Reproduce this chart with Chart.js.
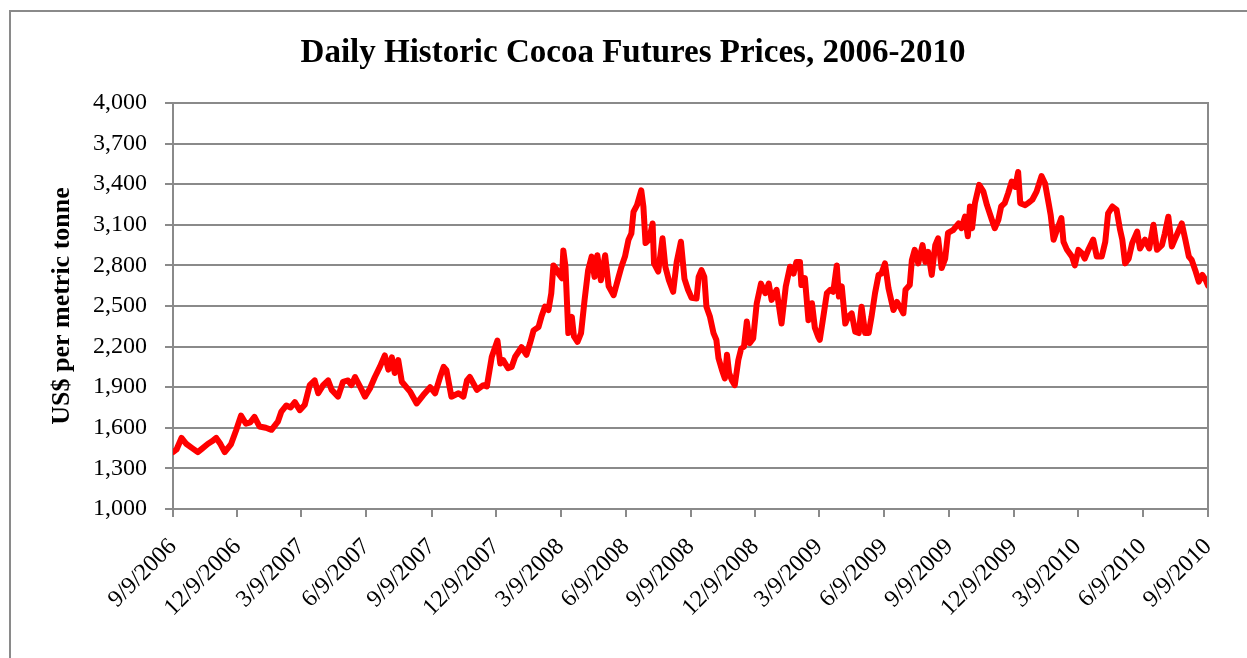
<!DOCTYPE html>
<html lang="en">
<head>
<meta charset="UTF-8">
<title>Daily Historic Cocoa Futures Prices, 2006-2010</title>
<script src="https://cdn.jsdelivr.net/npm/chart.js@4/dist/chart.umd.min.js"></script>
<style>
  html, body { margin: 0; padding: 0; background: #fff; }
  #wrap { position: relative; width: 1247px; height: 658px; }
</style>
</head>
<body>
<div id="wrap"><canvas id="cocoa" width="1247" height="658"></canvas></div>
<script>
// days counted from 9/9/2006, price in US$ per metric tonne
const priceDays = [
  0, 5, 12, 19, 27, 35, 42, 49, 55, 61, 67, 73, 82, 89, 96, 103, 109, 115, 122, 131,
  139, 148, 153, 160, 166, 172, 179, 186, 193, 200, 205, 212, 219, 224, 233, 240, 247, 252, 257, 264,
  271, 278, 285, 292, 299, 304, 309, 313, 318, 323, 335, 344, 353, 363, 370, 377, 382, 386, 393, 403,
  410, 415, 419, 429, 438, 443, 450, 458, 462, 466, 473, 478, 483, 492, 499, 504, 509, 516, 520, 525,
  530, 534, 537, 542, 544, 549, 551, 554, 558, 563, 566, 571, 576, 581, 586, 591, 595, 599, 604, 610,
  615, 622, 629, 633, 638, 643, 647, 650, 655, 661, 664, 667, 672, 677, 679, 685, 691, 695, 700, 706,
  711, 717, 722, 727, 732, 739, 742, 746, 750, 753, 758, 763, 767, 770, 775, 779, 782, 785, 789, 793,
  798, 802, 806, 810, 814, 819, 824, 830, 836, 841, 845, 852, 859, 865, 871, 876, 880, 885, 887, 892,
  897, 902, 906, 911, 913, 918, 923, 928, 932, 937, 940, 944, 949, 953, 958, 963, 968, 972, 977, 982,
  986, 991, 996, 1000, 1005, 1010, 1017, 1022, 1026, 1031, 1034, 1040, 1043, 1047, 1052, 1058, 1062, 1066, 1071, 1076,
  1080, 1085, 1090, 1094, 1101, 1109, 1113, 1118, 1122, 1125, 1128, 1132, 1138, 1144, 1149, 1156, 1160, 1165, 1169, 1174,
  1179, 1184, 1189, 1193, 1196, 1203, 1207, 1213, 1219, 1226, 1231, 1236, 1239, 1243, 1247, 1254, 1257, 1262, 1269, 1273,
  1278, 1283, 1287, 1292, 1299, 1304, 1311, 1316, 1320, 1326, 1332, 1337, 1340, 1344, 1349, 1354, 1361, 1365, 1372, 1378,
  1384, 1389, 1396, 1400, 1405, 1410, 1414, 1419, 1424, 1429, 1434, 1438, 1443, 1448, 1453, 1458, 1461
];
const priceValues = [
  1420, 1440, 1525, 1480, 1450, 1420, 1450, 1480, 1500, 1525, 1480, 1420, 1480, 1580, 1690, 1630, 1640, 1680, 1610, 1600,
  1585, 1645, 1720, 1765, 1750, 1790, 1730, 1770, 1915, 1950, 1855, 1915, 1950, 1880, 1830, 1940, 1950, 1915, 1975, 1905,
  1830, 1890, 1975, 2050, 2135, 2030, 2120, 2005, 2100, 1940, 1865, 1780, 1840, 1900, 1855, 1975, 2050, 2025, 1830, 1855,
  1830, 1950, 1975, 1880, 1915, 1905, 2125, 2245, 2075, 2100, 2040, 2050, 2125, 2195, 2140, 2225, 2320, 2345, 2420, 2495,
  2470, 2595, 2800, 2765, 2740, 2705, 2910, 2790, 2300, 2420, 2275, 2235, 2300, 2545, 2765, 2865, 2715, 2875, 2690, 2875,
  2645, 2580, 2715, 2790, 2865, 2990, 3035, 3195, 3245, 3355, 3235, 2965, 2990, 3110, 2815, 2755, 3000, 2790, 2690, 2605,
  2825, 2975, 2700, 2620, 2560, 2555, 2715, 2765, 2715, 2495, 2420, 2300, 2250, 2115, 2025, 1965, 2140, 2005, 1950, 1915,
  2100, 2185, 2200, 2385, 2225, 2260, 2520, 2665, 2595, 2665, 2545, 2620, 2370, 2645, 2790, 2740, 2825, 2825, 2655, 2705,
  2395, 2520, 2340, 2270, 2250, 2420, 2595, 2620, 2605, 2800, 2570, 2645, 2370, 2420, 2445, 2310, 2300, 2495, 2300, 2300,
  2420, 2595, 2730, 2740, 2815, 2630, 2470, 2530, 2495, 2445, 2620, 2655, 2840, 2915, 2815, 2950, 2825, 2900, 2730, 2950,
  3000, 2780, 2850, 3040, 3060, 3110, 3075, 3160, 3015, 3235, 3075, 3260, 3395, 3345, 3245, 3135, 3075, 3135, 3235, 3260,
  3335, 3420, 3380, 3490, 3260, 3245, 3260, 3285, 3345, 3460, 3405, 3260, 3170, 2990, 3050, 3150, 2975, 2915, 2865, 2800,
  2915, 2890, 2850, 2915, 2990, 2865, 2865, 2975, 3185, 3235, 3210, 3060, 2990, 2815, 2850, 2965, 3050, 2925, 2990, 2925,
  3100, 2915, 2950, 3035, 3160, 2940, 2990, 3050, 3110, 2990, 2865, 2840, 2765, 2680, 2730, 2690, 2650
];

// quarterly axis ticks
const tickDays = [0, 91, 181, 273, 365, 456, 547, 639, 731, 822, 912, 1004, 1096, 1187, 1277, 1369, 1461];
const tickLabels = [
  '9/9/2006', '12/9/2006', '3/9/2007', '6/9/2007', '9/9/2007', '12/9/2007', '3/9/2008', '6/9/2008',
  '9/9/2008', '12/9/2008', '3/9/2009', '6/9/2009', '9/9/2009', '12/9/2009', '3/9/2010', '6/9/2010', '9/9/2010'
];
const yTicks = [1000, 1300, 1600, 1900, 2200, 2500, 2800, 3100, 3400, 3700, 4000];

const chartTitle = 'Daily Historic Cocoa Futures Prices, 2006-2010';
const yTitle = 'US$ per metric tonne';

const GRID = '#8a8a8a';
const SERIF = '"Liberation Serif", "Times New Roman", serif';

// outer frame, title and right edge of the plot area
const framePlugin = {
  id: 'frame',
  beforeDraw(chart) {
    const ctx = chart.ctx;
    ctx.save();
    ctx.fillStyle = '#fff';
    ctx.fillRect(0, 0, chart.width, chart.height);
    ctx.strokeStyle = GRID;
    ctx.lineWidth = 2;
    ctx.beginPath();
    ctx.moveTo(10, chart.height);
    ctx.lineTo(10, 11);
    ctx.lineTo(chart.width, 11);
    ctx.stroke();
    ctx.fillStyle = '#000';
    ctx.font = 'bold 33px ' + SERIF;
    ctx.textAlign = 'center';
    ctx.textBaseline = 'alphabetic';
    ctx.fillText(chartTitle, 633, 62);
    ctx.restore();
  },
  afterDatasetsDraw(chart) {
    const a = chart.chartArea;
    const ctx = chart.ctx;
    ctx.save();
    ctx.strokeStyle = GRID;
    ctx.lineWidth = 2;
    ctx.beginPath();
    ctx.moveTo(a.right, a.top - 1);
    ctx.lineTo(a.right, a.bottom);
    ctx.stroke();
    ctx.restore();
  }
};

new Chart(document.getElementById('cocoa'), {
  type: 'line',
  plugins: [framePlugin],
  data: {
    datasets: [{
      label: 'Cocoa',
      data: priceDays.map((d, i) => ({ x: d, y: priceValues[i] })),
      borderColor: '#ff0000',
      borderWidth: 6,
      pointRadius: 0,
      tension: 0,
      borderJoinStyle: 'round',
      borderCapStyle: 'round'
    }]
  },
  options: {
    responsive: false,
    animation: false,
    layout: { padding: { left: 20, right: 39, top: 103, bottom: 0 } },
    plugins: { legend: { display: false }, tooltip: { enabled: false } },
    scales: {
      x: {
        type: 'linear',
        min: 0,
        max: 1461,
        afterBuildTicks: (scale) => { scale.ticks = tickDays.map(v => ({ value: v })); },
        afterFit: (scale) => { scale.height = 149; },
        ticks: {
          autoSkip: false,
          maxRotation: 45,
          minRotation: 45,
          padding: 16,
          color: '#000',
          font: { family: SERIF, size: 24 },
          callback: (v, i) => tickLabels[i]
        },
        grid: { drawOnChartArea: false, drawTicks: true, tickLength: 8, color: GRID, lineWidth: 2 },
        border: { color: GRID, width: 2 }
      },
      y: {
        min: 1000,
        max: 4000,
        afterBuildTicks: (scale) => { scale.ticks = yTicks.map(v => ({ value: v })); },
        afterFit: (scale) => { scale.width = 153; },
        ticks: {
          padding: 18,
          color: '#000',
          font: { family: SERIF, size: 24 },
          callback: (v) => v.toLocaleString('en-US')
        },
        title: {
          display: true,
          text: yTitle,
          color: '#000',
          font: { family: SERIF, size: 26, weight: 'bold' },
          padding: { top: 27, bottom: 0 }
        },
        grid: { color: GRID, lineWidth: 2, tickLength: 8 },
        border: { color: GRID, width: 2 }
      }
    }
  }
});
</script>
</body>
</html>
